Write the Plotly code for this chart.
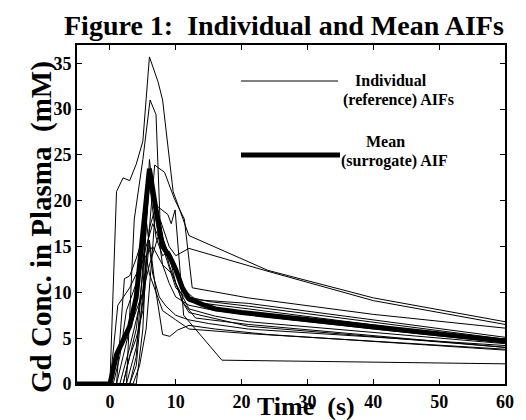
import plotly.graph_objects as go

# ---------------- data ----------------
t_aif01 = [-5, 0, 1, 2, 3, 4, 5, 6, 7.3, 8, 9.6, 11, 12, 24, 40, 60]
c_aif01 = [0, 0, 21, 22.5, 22.2, 24, 26.5, 35.7, 33, 31, 21, 18.3, 16.2, 12.4, 9.4, 6.8]

t_aif02 = [-5, 2.5, 3.7, 5, 6.1, 7, 7.6, 9, 10, 12, 24, 40, 60]
c_aif02 = [0, 0, 18, 24.5, 31, 29.4, 18, 15, 14, 14.8, 12.3, 9.1, 6.5]

t_aif03 = [-5, 3, 4, 5, 6, 7, 8, 9, 10, 12, 16, 24, 40, 60]
c_aif03 = [0, 0, 2, 10, 24.5, 18, 13, 11, 9.5, 8.6, 8.0, 7.3, 6.0, 4.5]

t_aif04 = [-5, 1.5, 3, 4, 5, 6, 6.8, 8.3, 9.8, 11.3, 12.5, 21, 40, 60]
c_aif04 = [0, 0, 4, 7, 10, 17, 23.9, 23.1, 20.2, 18, 10.5, 9.4, 7.6, 6.1]

t_aif05 = [-5, 2.5, 4, 5, 6, 7, 8.8, 9.3, 9.9, 11.2, 17, 60]
c_aif05 = [0, 0, 4, 9, 17, 19.5, 18.5, 17.5, 19, 7.5, 2.6, 2.2]

t_aif06 = [-5, 2, 3, 4, 5, 6, 7, 8, 9.1, 10.3, 12, 16, 24, 60]
c_aif06 = [0, 0, 3, 5, 8, 15.7, 10, 5.4, 5.2, 5.9, 6.4, 6.0, 5.4, 3.7]

t_aif07 = [-5, 1, 2.2, 3, 4, 5, 6, 7, 8, 10, 12, 15, 21, 60]
c_aif07 = [0, 0, 11.5, 11.8, 13.7, 16, 22, 20, 16, 12, 9.5, 9.0, 8.5, 4.9]

t_aif08 = [-5, 0, 1.2, 2, 3, 4, 5, 6.5, 8, 9.5, 11, 13, 21, 60]
c_aif08 = [0, 0, 8.6, 9.5, 10.5, 12, 13.5, 15, 13, 12, 9, 7.2, 6.5, 4.0]

t_aif09 = [-5, 3, 4, 4.5, 5.5, 6.5, 7.5, 8.5, 10, 12, 15, 21, 60]
c_aif09 = [0, 0, 3, 8, 18, 12, 9.5, 8.5, 7.5, 7.0, 6.6, 6.0, 4.2]

t_aif10 = [-5, 2, 3, 4, 5, 6, 7, 8, 9, 10, 11, 13, 21, 60]
c_aif10 = [0, 0, 3, 6, 12, 22, 16, 14, 14.5, 13, 10.5, 9.2, 8.8, 5.1]

t_aif11 = [-5, 3.5, 4.5, 5.5, 6.5, 7, 8, 9, 10, 11, 12, 21, 60]
c_aif11 = [0, 0, 2, 6, 15, 20, 16, 13, 11, 9, 7.8, 6.3, 4.0]

t_aif12 = [-5, 1, 2, 3, 4, 5, 6, 7.5, 9, 10, 12, 16, 21, 60]
c_aif12 = [0, 0, 3, 6, 8, 10, 13, 16.5, 14, 11, 8.2, 7.4, 6.8, 4.4]

t_aif13 = [-5, 4, 5, 5.5, 6, 7, 8, 10, 11, 12, 21, 60]
c_aif13 = [0, 0, 6, 14, 12, 10, 8, 7, 6.5, 6.0, 5.5, 3.8]

t_aif14 = [-5, 0.5, 1.5, 2.5, 3.5, 4.5, 5.5, 6.5, 8, 10, 12, 21, 60]
c_aif14 = [0, 0, 3, 8, 10, 12, 15, 17.5, 15, 10.5, 9.0, 8.2, 4.6]

t_mean = [-5, 0, 1, 2, 3, 4, 5, 6, 7, 8, 9, 10, 11, 12, 14, 16, 20, 25, 30, 40, 50, 60]
c_mean = [0, 0, 3.2, 4.8, 6.3, 9.5, 16, 23.5, 19, 15, 14, 12.5, 10.5, 9.3, 8.7, 8.2, 7.8, 7.4, 7.0, 6.2, 5.5, 4.7]

individual_times = [t_aif01, t_aif02, t_aif03, t_aif04, t_aif05, t_aif06, t_aif07,
                    t_aif08, t_aif09, t_aif10, t_aif11, t_aif12, t_aif13, t_aif14]
individual_concs = [c_aif01, c_aif02, c_aif03, c_aif04, c_aif05, c_aif06, c_aif07,
                    c_aif08, c_aif09, c_aif10, c_aif11, c_aif12, c_aif13, c_aif14]

x_ticks = [0, 10, 20, 30, 40, 50, 60]
y_ticks = [0, 5, 10, 15, 20, 25, 30, 35]

title_text = "Figure 1:\u00a0 Individual and Mean AIFs"
x_label = "Time\u00a0 (s)"
y_label = "Gd Conc. in Plasma\u00a0 (mM)"
legend_individual = ["Individual", "(reference) AIFs"]
legend_mean = ["Mean", "(surrogate) AIF"]

# ---------------- layout geometry ----------------
W, H = 526, 420
L, R, T, B = 69, 497, 37, 376
FONT = "Liberation Serif"


def px(xp):
    return (xp - L) / (R - L)


def py(yp):
    return (B - yp) / (B - T)


fig = go.Figure()
for tt, cc in zip(individual_times, individual_concs):
    fig.add_trace(go.Scatter(x=tt, y=cc, mode="lines",
                             line=dict(color="black", width=1),
                             showlegend=False, hoverinfo="skip"))
fig.add_trace(go.Scatter(x=t_mean, y=c_mean, mode="lines",
                         line=dict(color="black", width=5),
                         showlegend=False, hoverinfo="skip"))

axis_common = dict(showline=True, linecolor="black", linewidth=2, mirror="ticks",
                   ticks="inside", ticklen=5, tickwidth=1, tickcolor="black",
                   showgrid=False, zeroline=False,
                   tickfont=dict(family=FONT, size=18, color="black", weight="bold"))

fig.update_xaxes(range=[-5, 60], tickvals=x_ticks, ticktext=[str(v) for v in x_ticks],
                 **axis_common)
fig.update_yaxes(range=[0, 37], tickvals=y_ticks, ticktext=[str(v) for v in y_ticks],
                 **axis_common)

ann = []
bold = dict(family=FONT, color="black", weight="bold")
ann.append(dict(text=title_text, x=px(276), y=py(17), xref="paper", yref="paper",
                showarrow=False, font=dict(size=28, **bold), xanchor="center", yanchor="middle"))
ann.append(dict(text=x_label, x=px(298), y=py(398), xref="paper", yref="paper",
                showarrow=False, font=dict(size=26, **bold), xanchor="center", yanchor="middle"))
ann.append(dict(text=y_label, x=px(33), y=py(219), xref="paper", yref="paper",
                showarrow=False, font=dict(size=29, **bold), textangle=-90,
                xanchor="center", yanchor="middle"))
# legend-like labels
ann.append(dict(text=legend_individual[0], x=px(383), y=py(72), xref="paper", yref="paper",
                showarrow=False, font=dict(size=16, **bold), xanchor="center", yanchor="middle"))
ann.append(dict(text=legend_individual[1], x=px(390), y=py(92), xref="paper", yref="paper",
                showarrow=False, font=dict(size=16, **bold), xanchor="center", yanchor="middle"))
ann.append(dict(text=legend_mean[0], x=px(377), y=py(133), xref="paper", yref="paper",
                showarrow=False, font=dict(size=16, **bold), xanchor="center", yanchor="middle"))
ann.append(dict(text=legend_mean[1], x=px(386), y=py(153), xref="paper", yref="paper",
                showarrow=False, font=dict(size=16, **bold), xanchor="center", yanchor="middle"))

shapes = [
    dict(type="line", xref="paper", yref="paper", x0=px(233), x1=px(330), y0=py(73), y1=py(73),
         line=dict(color="black", width=1)),
    dict(type="line", xref="paper", yref="paper", x0=px(233), x1=px(332), y0=py(147), y1=py(147),
         line=dict(color="black", width=5)),
]

fig.update_layout(width=W, height=H, margin=dict(l=L, r=W - R, t=T, b=H - B),
                  paper_bgcolor="white", plot_bgcolor="white",
                  annotations=ann, shapes=shapes, showlegend=False)

fig.write_html("out.html")
